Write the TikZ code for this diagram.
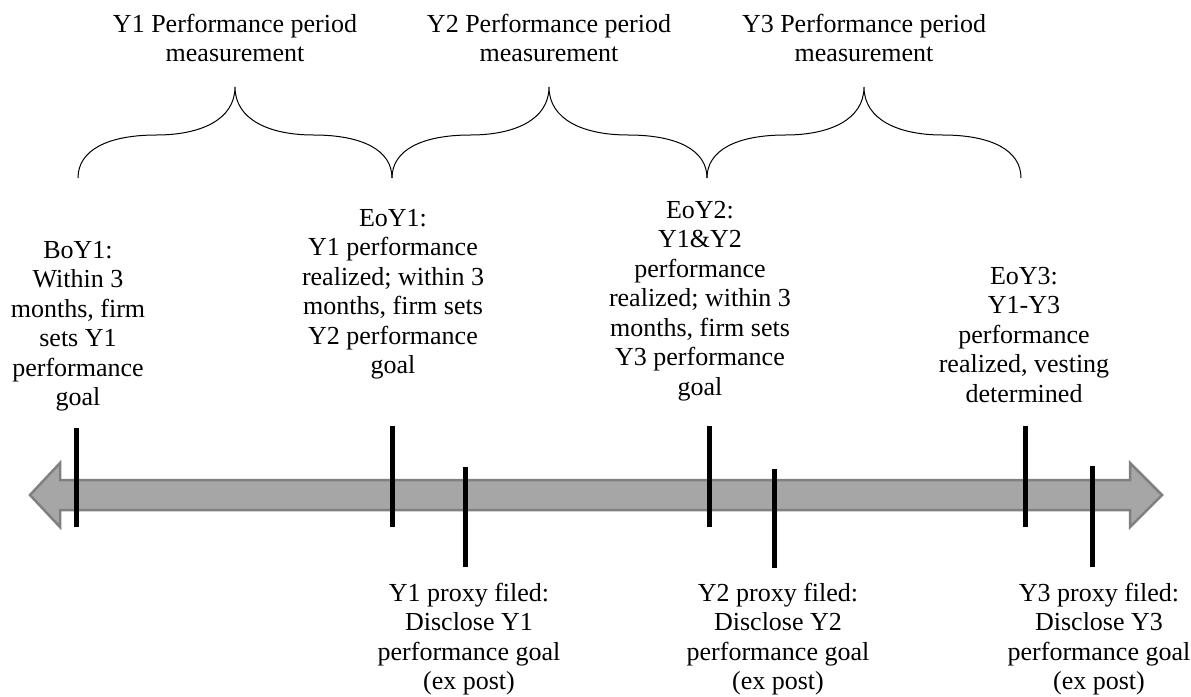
\documentclass[tikz,border=0pt]{standalone}
\usepackage{fontspec}
\setmainfont{Liberation Serif}
\tikzset{
  lbl/.style={align=center, anchor=base, inner sep=0pt, font=\fontsize{26}{29.5}\selectfont},
  tickmark/.style={line width=5pt, black},
  bracecurve/.style={line width=1pt, black},
  timeline/.style={fill=black!35, draw=black!50, line width=2.5pt, line join=miter}
}
\begin{document}
\begin{tikzpicture}[x=1pt,y=-1pt]
\useasboundingbox (0,0) rectangle (1191,696);
% timeline arrow
\draw[timeline] (30,495) -- (60,463) -- (60,480) -- (1130,480) -- (1130,463) -- (1162,495) -- (1130,527) -- (1130,510) -- (60,510) -- (60,527) -- cycle;
% ticks
\foreach \n/\x/\ya/\yb in {t1/76/428/527, t2/392/426/527, t3/465/467/567, t4/709/426/527, t5/774/469/568, t6/1025/426/527, t7/1092/466/567}{
  \coordinate (\n a) at (\x,\ya);
  \coordinate (\n b) at (\x,\yb);
  \draw[tickmark] (\n a) -- (\n b);
}
% braces
\foreach \l/\m/\r in {78/235/392, 392/549/707, 707/864/1021}{
  \draw[bracecurve] (\l,178) .. controls (\l,150) and ({\l+30},135) .. ({(\l+\m)/2},135)
     .. controls ({\m-35},135) and (\m,120) .. (\m,87)
     .. controls (\m,120) and ({\m+35},135) .. ({(\m+\r)/2},135)
     .. controls ({\r-30},135) and (\r,150) .. (\r,178);
}
% titles (anchor = baseline of last line)
\node[lbl] (h1) at (235,61.5) {Y1 Performance period\\measurement};
\node[lbl] (h2) at (549,61.5) {Y2 Performance period\\measurement};
\node[lbl] (h3) at (864,61.5) {Y3 Performance period\\measurement};
% upper labels
\node[lbl] (boy1) at (78,405.5) {BoY1:\\Within 3\\months, firm\\sets Y1\\performance\\goal};
\node[lbl] (eoy1) at (393,373.5) {EoY1:\\Y1 performance\\realized; within 3\\months, firm sets\\Y2 performance\\goal};
\node[lbl] (eoy2) at (700,395) {EoY2:\\Y1\&Y2\\performance\\realized; within 3\\months, firm sets\\Y3 performance\\goal};
\node[lbl] (eoy3) at (1024,402) {EoY3:\\Y1-Y3\\performance\\realized, vesting\\determined};
% lower labels
\node[lbl] (p1) at (469,689.5) {Y1 proxy filed:\\Disclose Y1\\performance goal\\(ex post)};
\node[lbl] (p2) at (778,689.5) {Y2 proxy filed:\\Disclose Y2\\performance goal\\(ex post)};
\node[lbl] (p3) at (1099,689.5) {Y3 proxy filed:\\Disclose Y3\\performance goal\\(ex post)};
\end{tikzpicture}
\end{document}
